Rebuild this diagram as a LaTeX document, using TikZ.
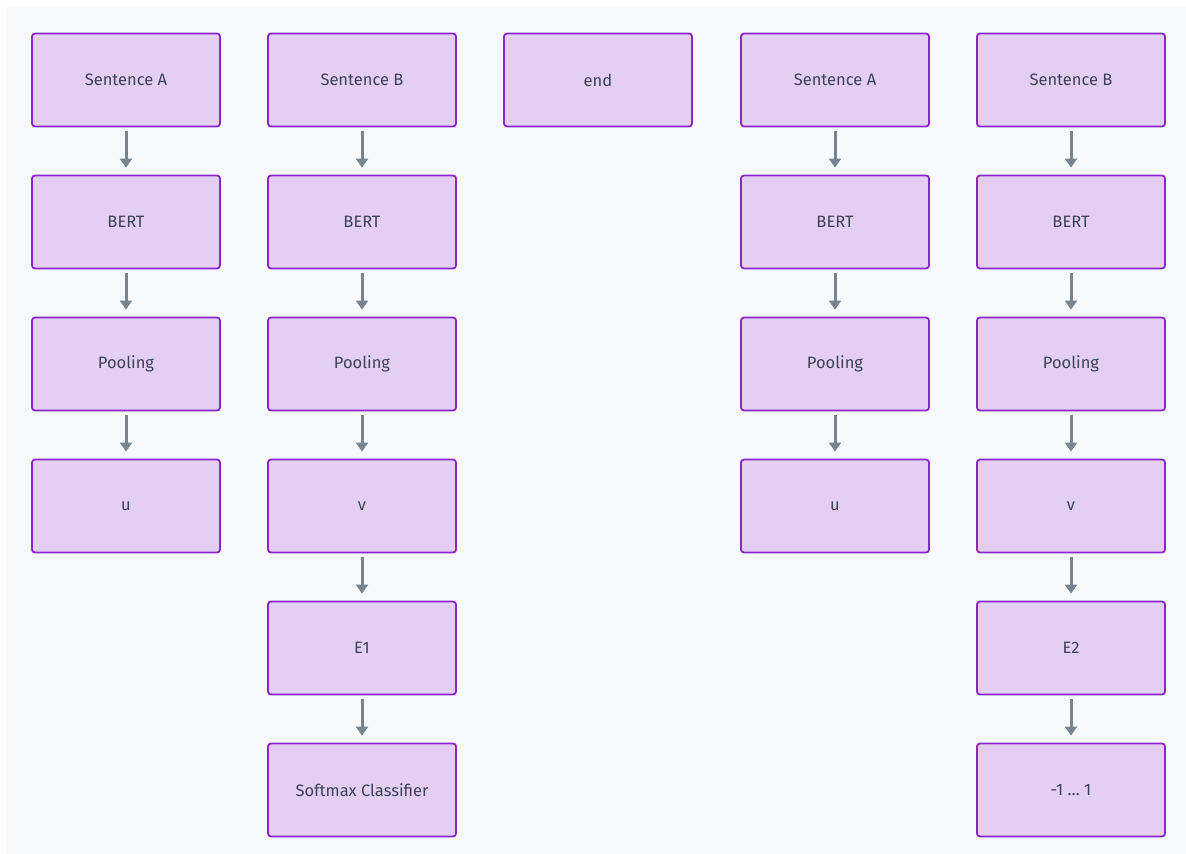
\documentclass[tikz,border=0pt]{standalone}
\usepackage{fontspec}
\setmainfont{Fira Sans}
\usetikzlibrary{arrows.meta}
\definecolor{bgc}{HTML}{F8F9FA}
\definecolor{boxfill}{HTML}{E4CFF3}
\definecolor{boxline}{HTML}{8A25CC}
\definecolor{txt}{HTML}{3C4257}
\definecolor{arr}{HTML}{778593}
\tikzset{
  blk/.style={draw=boxline, line width=1.8pt, fill=boxfill, rounded corners=3pt,
    minimum width=188pt, minimum height=93pt, inner sep=0pt,
    text=txt, font=\fontsize{16.5}{19}\selectfont},
  flow/.style={draw=arr, line width=3pt, -{Triangle[length=9pt,width=12pt]},
    shorten <=4pt, shorten >=7pt}
}
\begin{document}
\begin{tikzpicture}[x=1pt,y=-1pt]
\useasboundingbox (0,0) rectangle (1186,854);
\fill[white] (0,0) rectangle (1186,854);
\fill[bgc] (6,7) rectangle (1186,854);
% column 1
\node[blk] (a1) at (126,80) {Sentence A};
\node[blk] (a2) at (126,222) {BERT};
\node[blk] (a3) at (126,364) {Pooling};
\node[blk] (a4) at (126,506) {u};
% column 2
\node[blk] (b1) at (362,80) {Sentence B};
\node[blk] (b2) at (362,222) {BERT};
\node[blk] (b3) at (362,364) {Pooling};
\node[blk] (b4) at (362,506) {v};
\node[blk] (b5) at (362,648) {E1};
\node[blk] (b6) at (362,790) {Softmax Classifier};
% column 3
\node[blk] (c1) at (598,80) {end};
% column 4
\node[blk] (d1) at (835,80) {Sentence A};
\node[blk] (d2) at (835,222) {BERT};
\node[blk] (d3) at (835,364) {Pooling};
\node[blk] (d4) at (835,506) {u};
% column 5
\node[blk] (e1) at (1071,80) {Sentence B};
\node[blk] (e2) at (1071,222) {BERT};
\node[blk] (e3) at (1071,364) {Pooling};
\node[blk] (e4) at (1071,506) {v};
\node[blk] (e5) at (1071,648) {E2};
\node[blk] (e6) at (1071,790) {-1 … 1};
% arrows
\foreach \s/\t in {a1/a2,a2/a3,a3/a4,b1/b2,b2/b3,b3/b4,b4/b5,b5/b6,d1/d2,d2/d3,d3/d4,e1/e2,e2/e3,e3/e4,e4/e5,e5/e6}
  \draw[flow] (\s.south) -- (\t.north);
\end{tikzpicture}
\end{document}
